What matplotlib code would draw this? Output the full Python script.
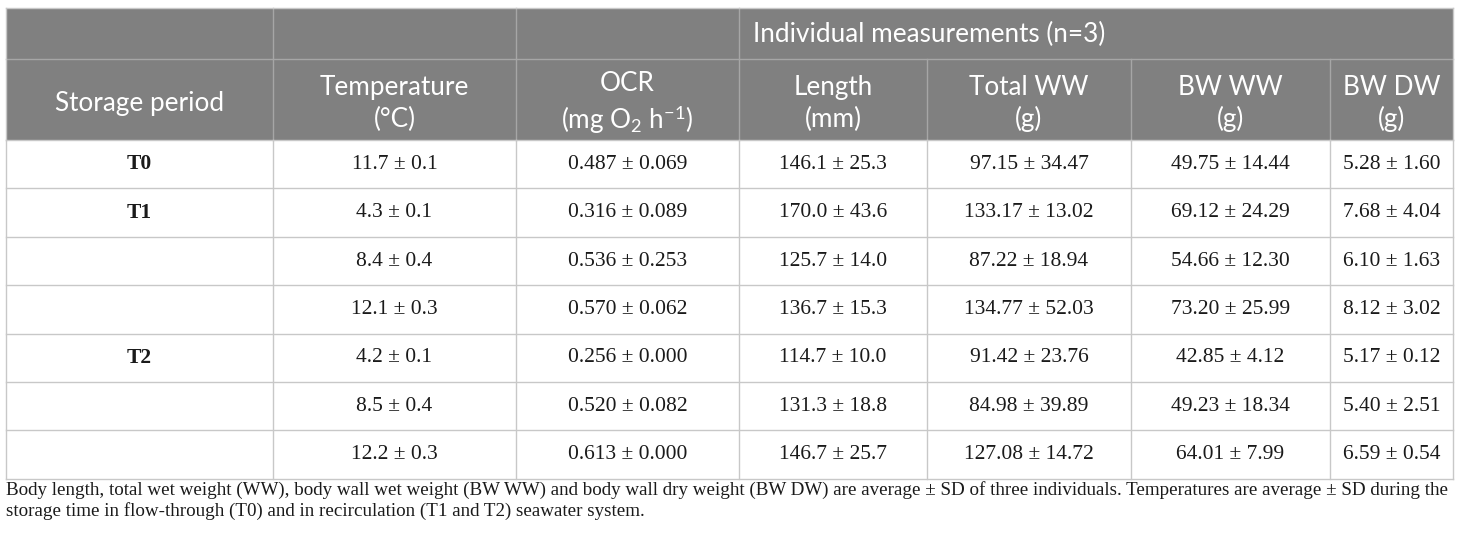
import matplotlib.pyplot as plt
from matplotlib.patches import Rectangle

plt.rcParams['mathtext.fontset'] = 'custom'
plt.rcParams['mathtext.rm'] = 'Lato'
plt.rcParams['mathtext.it'] = 'Lato:italic'

# Table content
group_title = "Individual measurements (n=3)"
headers = ["Storage period", "Temperature\n(°C)", "OCR\n(mg O$_2$ h$^{-1}$)",
           "Length\n(mm)", "Total WW\n(g)", "BW WW\n(g)", "BW DW\n(g)"]
periods = ["T0", "T1", "", "", "T2", "", ""]
temperature = ["11.7 ± 0.1", "4.3 ± 0.1", "8.4 ± 0.4", "12.1 ± 0.3",
               "4.2 ± 0.1", "8.5 ± 0.4", "12.2 ± 0.3"]
ocr = ["0.487 ± 0.069", "0.316 ± 0.089", "0.536 ± 0.253", "0.570 ± 0.062",
       "0.256 ± 0.000", "0.520 ± 0.082", "0.613 ± 0.000"]
length = ["146.1 ± 25.3", "170.0 ± 43.6", "125.7 ± 14.0", "136.7 ± 15.3",
          "114.7 ± 10.0", "131.3 ± 18.8", "146.7 ± 25.7"]
total_ww = ["97.15 ± 34.47", "133.17 ± 13.02", "87.22 ± 18.94", "134.77 ± 52.03",
            "91.42 ± 23.76", "84.98 ± 39.89", "127.08 ± 14.72"]
bw_ww = ["49.75 ± 14.44", "69.12 ± 24.29", "54.66 ± 12.30", "73.20 ± 25.99",
         "42.85 ± 4.12", "49.23 ± 18.34", "64.01 ± 7.99"]
bw_dw = ["5.28 ± 1.60", "7.68 ± 4.04", "6.10 ± 1.63", "8.12 ± 3.02",
         "5.17 ± 0.12", "5.40 ± 2.51", "6.59 ± 0.54"]
caption = ("Body length, total wet weight (WW), body wall wet weight (BW WW) and body wall dry weight (BW DW) "
           "are average ± SD of three individuals. Temperatures are average ± SD during the\n"
           "storage time in flow-through (T0) and in recirculation (T1 and T2) seawater system.")

columns = [periods, temperature, ocr, length, total_ww, bw_ww, bw_dw]

# layout (pixels)
col_x = [6, 273, 516, 739, 927, 1131, 1330, 1453]
top, h1, h2 = 8, 59, 140
row_h = 48.4
n_rows = len(periods)
bottom = h2 + n_rows * row_h

head_col = "#808080"
head_line = "#a6a6a6"
grid_col = "#c8c8c8"
sans = "Lato"
serif = "Liberation Serif"

fig = plt.figure(figsize=(14.6, 5.4), dpi=100)
ax = fig.add_axes([0, 0, 1, 1])
ax.set_xlim(0, 1460)
ax.set_ylim(540, 0)
ax.axis("off")

# header background
ax.add_patch(Rectangle((col_x[0], top), col_x[-1] - col_x[0], h2 - top,
                       facecolor=head_col, edgecolor="none"))
ax.plot([col_x[0], col_x[-1]], [h1, h1], color=head_line, lw=1)
for x in col_x[1:4]:
    ax.plot([x, x], [top, h2], color=head_line, lw=1)
for x in col_x[4:-1]:
    ax.plot([x, x], [h1, h2], color=head_line, lw=1)

ax.text(col_x[3] + 14, (top + h1) / 2 + 1, group_title, color="white",
        family=sans, fontsize=18.8, ha="left", va="center")
for i, h in enumerate(headers):
    cx = (col_x[i] + col_x[i + 1]) / 2
    ax.text(cx, (h1 + h2) / 2 + 4, h, color="white", family=sans, fontsize=18.8,
            ha="center", va="center", linespacing=1.3)

# body
for r in range(n_rows + 1):
    y = h2 + r * row_h
    ax.plot([col_x[0], col_x[-1]], [y, y], color=grid_col, lw=1)
for x in col_x:
    ax.plot([x, x], [h2, bottom], color=grid_col, lw=1)
ax.plot([col_x[0], col_x[0]], [top, h2], color=grid_col, lw=1)
ax.plot([col_x[-1], col_x[-1]], [top, h2], color=grid_col, lw=1)
ax.plot([col_x[0], col_x[-1]], [top, top], color=grid_col, lw=1)

for c, vals in enumerate(columns):
    cx = (col_x[c] + col_x[c + 1]) / 2
    for r, v in enumerate(vals):
        cy = h2 + (r + 0.5) * row_h
        ax.text(cx, cy, v, family=serif, fontsize=15.5, ha="center", va="center",
                color="#1a1a1a", fontweight="bold" if c == 0 else "normal")

ax.text(col_x[0], bottom + 2, caption, family=serif, fontsize=13.7, ha="left",
        va="top", color="#1a1a1a", linespacing=1.25)

fig.savefig("out.png", dpi=100)
